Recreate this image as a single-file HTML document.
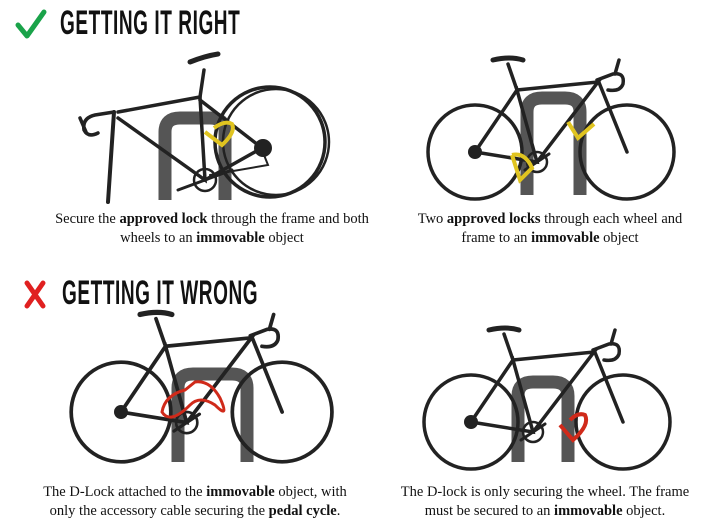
<!DOCTYPE html>
<html><head><meta charset="utf-8"><style>
body{margin:0;width:725px;height:529px;background:#fff;overflow:hidden;position:relative;font-family:"Liberation Serif",serif}
.h{position:absolute;font-family:"Liberation Sans",sans-serif;font-weight:bold;font-size:34px;transform:scaleX(0.56);transform-origin:left top;letter-spacing:1px;color:#111}
.c{position:absolute;font-size:14.5px;line-height:19px;text-align:center;color:#111;white-space:nowrap}
svg{position:absolute;left:0;top:0}
</style></head><body>
<svg width="725" height="529" viewBox="0 0 725 529">
<defs>
<g id="bike" fill="none" stroke="#222" stroke-width="3.5" stroke-linecap="round">
 <circle cx="0" cy="0" r="47"/>
 <circle cx="152" cy="0" r="47"/>
 <path d="M0 0 L62 10 L42 -62 Z"/>
 <path d="M42 -62 L123 -70 L62 10"/>
 <path d="M123 -72 L152 0"/>
 <path d="M42 -62 L33 -88"/>
 <path d="M18 -92 Q35 -96 48 -92" stroke-width="5"/>
 <path d="M122 -72 L138 -78 Q150 -80 148 -68 Q145 -60 133 -62"/>
 <path d="M140 -78 L144 -92"/>
 <circle cx="62" cy="10" r="10" stroke-width="2.5"/>
 <path d="M50 18 L74 2" stroke-width="3"/>
</g>
</defs>
<path d="M18 25 L27 36 L44 12" fill="none" stroke="#1aa34a" stroke-width="5" stroke-linecap="round" stroke-linejoin="round"/>
<path d="M27 283 L43 306 M43 283 L27 306" stroke="#e02020" stroke-width="5" stroke-linecap="round"/>

<!-- Bike 1 -->
<path d="M165 200 L165 132 Q165 118 180 118 L210 118 Q225 118 225 132 L225 200" fill="none" stroke="#555" stroke-width="13"/>
<g fill="none" stroke="#222" stroke-width="3.5" stroke-linecap="round">
 <circle cx="270" cy="142" r="55"/><circle cx="276" cy="142" r="53" stroke-width="2.5"/>
 <path d="M118 112 L200 97 L205 180 L118 118"/>
 <path d="M114 112 L108 202" stroke-width="4"/>
 <path d="M200 97 L204 70"/>
 <path d="M190 62 Q205 56 218 54" stroke-width="5"/>
 <path d="M205 180 L262 148 L200 100"/>
 <path d="M114 112 L95 115 Q82 118 84 130 Q88 138 98 133"/>
 <path d="M80 118 L86 132"/>
 <circle cx="205" cy="180" r="11" stroke-width="2.5"/>
 <path d="M178 190 L232 170" stroke-width="3"/>
 <path d="M210 175 L268 165 L262 150" stroke-width="2"/>
</g>
<circle cx="263" cy="148" r="9" fill="#222"/>
<path d="M205 132 L222 145 Q236 132 232 124 Q225 120 214 128" fill="none" stroke="#e0c420" stroke-width="4"/>

<!-- Bike 2 -->
<path d="M527 195 L527 112 Q527 98 542 98 L565 98 Q580 98 580 112 L580 195" fill="none" stroke="#555" stroke-width="13"/>
<use href="#bike" transform="translate(475,152)"/>
<circle cx="475" cy="152" r="7" fill="#222"/>
<path d="M512 155 L520 180 L532 168 Q525 152 512 155" fill="none" stroke="#e0c420" stroke-width="4"/>
<path d="M568 122 L578 138 L594 124" fill="none" stroke="#e0c420" stroke-width="4"/>

<!-- Bike 3 -->
<path d="M178 462 L178 388 Q178 374 193 374 L232 374 Q247 374 247 388 L247 462" fill="none" stroke="#555" stroke-width="13"/>
<use href="#bike" transform="translate(121,412) scale(1.06)"/>
<circle cx="121" cy="412" r="7" fill="#222"/>
<path d="M185 390 Q165 395 162 412 Q170 425 190 405 Q200 395 215 405 Q230 420 220 398 Q210 380 195 382 Z" fill="none" stroke="#d02a1a" stroke-width="3"/>

<!-- Bike 4 -->
<path d="M518 462 L518 396 Q518 382 533 382 L553 382 Q568 382 568 396 L568 462" fill="none" stroke="#555" stroke-width="13"/>
<use href="#bike" transform="translate(471,422)"/>
<circle cx="471" cy="422" r="7" fill="#222"/>
<path d="M560 425 L573 440 Q590 425 585 415 Q578 412 570 420" fill="none" stroke="#d02a1a" stroke-width="4"/>
</svg>

<div class="h" style="left:60px;top:4px">GETTING IT RIGHT</div>
<div class="h" style="left:62px;top:274px">GETTING IT WRONG</div>

<div class="c" style="left:0;width:424px;top:210px">Secure the <b>approved lock</b> through the frame and both<br>wheels to an <b>immovable</b> object</div>
<div class="c" style="left:380px;width:340px;top:210px">Two <b>approved locks</b> through each wheel and<br>frame to an <b>immovable</b> object</div>
<div class="c" style="left:0;width:390px;top:483px">The D-Lock attached to the <b>immovable</b> object, with<br>only the accessory cable securing the <b>pedal cycle</b>.</div>
<div class="c" style="left:375px;width:340px;top:483px">The D-lock is only securing the wheel. The frame<br>must be secured to an <b>immovable</b> object.</div>
</body></html>
